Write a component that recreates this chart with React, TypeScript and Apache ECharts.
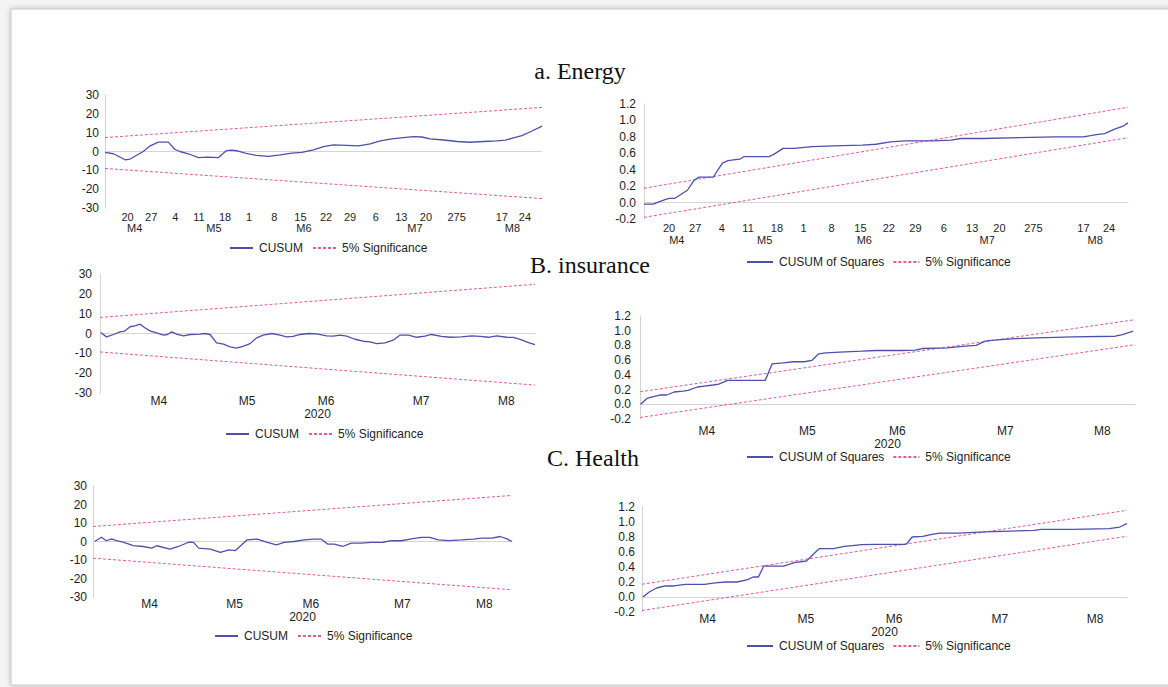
import React, { useEffect, useRef } from "react";
import * as echarts from "echarts";

type Pt = [number, number];

// ---------- tick labels ----------
const energyDayPos = [4.5, 9.2, 14, 18.7, 23.9, 28.7, 33.7, 38.9, 44, 48.8, 53.9, 59, 63.9, 70, 79, 83.6];
const energyDayLabels = ["20", "27", "4", "11", "18", "1", "8", "15", "22", "29", "6", "13", "20", "275", "17", "24"];
const energyMonthPos = [5.9, 21.7, 39.6, 61.7, 81.1];
const monthLabels = ["M4", "M5", "M6", "M7", "M8"];
const otherMonthPos = [13.5, 33.8, 52, 73.8, 93.4];

// ---------- a. Energy ----------
const energyCusum: Pt[] = [
  [0, -0.5], [1.7, -1.2], [4, -4.4], [5, -4], [7.6, 0], [9, 3], [10.6, 5], [12.6, 5], [13.9, 1.2], [14.9, 0],
  [16.6, -1.2], [18.6, -3.2], [20.3, -3], [22.6, -3.2], [24.2, 0.5], [25.2, 0.7], [26.2, 0.4], [27.9, -0.9],
  [30.2, -2.1], [32.5, -2.6], [34.9, -1.8], [37.2, -0.9], [39.2, -0.5], [41.5, 0.9], [43.5, 2.6], [45.5, 3.5],
  [48.1, 3.3], [50.5, 3], [52.8, 4], [54.8, 5.6], [57.1, 6.7], [59.4, 7.4], [61.4, 7.9], [63.1, 7.7], [64.7, 6.7],
  [67.4, 6.1], [70.1, 5.3], [72.7, 4.9], [75.4, 5.3], [78, 5.6], [79.7, 6], [81.3, 7.2], [83, 8.4], [85, 10.9], [87, 13.5],
];
const energyCusumUpper: Pt[] = [[0, 7.4], [87, 23.4]];
const energyCusumLower: Pt[] = [[0, -9], [87, -25]];

const energySq: Pt[] = [
  [0, -0.02], [1.6, -0.02], [3.9, 0.04], [4.6, 0.05], [5.5, 0.05], [7.1, 0.12], [7.8, 0.15], [9, 0.27], [9.9, 0.31],
  [10.9, 0.31], [12.5, 0.31], [13.2, 0.39], [14.1, 0.48], [15.1, 0.51], [16.1, 0.52], [17.3, 0.53], [18, 0.56],
  [19.9, 0.56], [22.5, 0.56], [23.4, 0.59], [25, 0.66], [27, 0.66], [30.2, 0.68], [34, 0.69], [39.2, 0.7],
  [41.7, 0.71], [44.3, 0.74], [46.9, 0.75], [52, 0.75], [55.2, 0.76], [57, 0.78], [61, 0.78], [67.4, 0.79],
  [73.9, 0.8], [79, 0.8], [81.6, 0.83], [82.8, 0.84], [84.5, 0.89], [86.1, 0.93], [87, 0.97],
];
const energySqUpper: Pt[] = [[0, 0.175], [87, 1.16]];
const energySqLower: Pt[] = [[0, -0.18], [87, 0.79]];

// ---------- B. insurance ----------
const insuranceCusum: Pt[] = [
  [0.15, 0.5], [1.5, -1.7], [3.1, -0.5], [4.6, 0.8], [5.7, 1.2], [6.9, 3.4], [8, 3.9], [9.2, 4.7], [10.3, 2.9],
  [11.5, 1.3], [13, 0.3], [14.6, -0.8], [15.5, -0.5], [16.5, 0.8], [17.6, -0.3], [19.2, -1.2], [20.7, -0.5],
  [23, -0.3], [24.1, 0], [25.3, -0.5], [26.8, -4.7], [28.4, -5.4], [29.9, -6.7], [31.4, -7.4], [33, -6.4],
  [34.5, -5.1], [36, -2.2], [37.5, -0.8], [39.5, 0], [41.4, -0.8], [42.9, -1.7], [44.4, -1.5], [46, -0.5],
  [47.9, 0], [49.8, -0.2], [52.1, -1.2], [53.6, -1.3], [55.2, -0.8], [56.7, -1.3], [58.6, -2.9], [60.5, -3.9],
  [62.1, -4.2], [63.6, -5.1], [65.5, -4.7], [67.4, -3.4], [69, -0.8], [70.9, -0.8], [72.8, -1.9], [74.7, -1.3],
  [76.2, -0.5], [78.5, -1.5], [80.5, -1.9], [83.1, -1.7], [85.4, -1.2], [87.4, -1.5], [89.3, -1.9], [91.2, -1.2],
  [93.5, -1.9], [95, -2], [96.6, -3], [98.5, -4.6], [100, -5.6],
];
const insuranceCusumUpper: Pt[] = [[0, 8.1], [100, 24.8]];
const insuranceCusumLower: Pt[] = [[0, -9.3], [100, -26]];

const insuranceSq: Pt[] = [
  [0.1, 0], [1.4, 0.08], [2.5, 0.1], [4, 0.126], [5.4, 0.126], [6.9, 0.167], [8.7, 0.18], [9.7, 0.19], [11.6, 0.235],
  [12.6, 0.244], [14.8, 0.262], [15.9, 0.275], [17.7, 0.325], [18.8, 0.325], [20.9, 0.325], [23.1, 0.325],
  [25.3, 0.325], [26.7, 0.55], [28.9, 0.564], [31, 0.578], [33.2, 0.578], [34.7, 0.596], [36.1, 0.686], [37.5, 0.7],
  [40.4, 0.709], [44.8, 0.722], [47.7, 0.731], [52.7, 0.731], [55.6, 0.736], [57, 0.758], [62.1, 0.767],
  [65.7, 0.79], [67.9, 0.8], [69.7, 0.858], [71.5, 0.871], [75.1, 0.889], [80.1, 0.903], [87.4, 0.916],
  [96, 0.925], [97.5, 0.948], [99.6, 0.993],
];
const insuranceSqUpper: Pt[] = [[0, 0.17], [100, 1.15]];
const insuranceSqLower: Pt[] = [[0, -0.18], [100, 0.81]];

// ---------- C. Health ----------
const healthCusum: Pt[] = [
  [0.4, 0], [2, 2.3], [3.2, 0.4], [4.4, 1.4], [5.6, 0.5], [7.2, -0.4], [9.6, -2.2], [12, -2.7], [14, -3.6],
  [15.2, -2.3], [18.4, -4.1], [20.4, -2.7], [22.8, -0.4], [24, -0.5], [25.2, -3.6], [28, -4.1], [30.4, -5.9],
  [32.4, -4.5], [34, -4.9], [36.8, 0.9], [39.2, 1.3], [41.6, -0.5], [43.8, -1.8], [45.6, -0.5], [48, 0],
  [50.4, 0.9], [52.8, 1.3], [54.4, 1.3], [56, -1.4], [57.6, -1.4], [59.6, -2.7], [61.6, -0.9], [64, -0.9],
  [66.4, -0.5], [69.2, -0.4], [71.2, 0.5], [73.6, 0.4], [76, 1.4], [78.4, 2.2], [80.4, 2.2], [82.4, 0.9],
  [84.8, 0.5], [88, 0.9], [90.8, 1.3], [92.8, 1.8], [95.2, 1.8], [97.2, 2.7], [98.8, 1.4], [100, 0],
];
const healthCusumUpper: Pt[] = [[0, 8.1], [100, 24.9]];
const healthCusumLower: Pt[] = [[0, -9], [100, -26.1]];

const healthSq: Pt[] = [
  [0.2, 0], [1.5, 0.067], [3, 0.12], [4.8, 0.147], [6.6, 0.147], [8.9, 0.169], [10.7, 0.169], [12.9, 0.169],
  [15.1, 0.187], [17.3, 0.2], [19.6, 0.2], [21.8, 0.231], [22.9, 0.267], [24, 0.267], [25.1, 0.413], [26.9, 0.413],
  [29.2, 0.413], [31.4, 0.458], [33.9, 0.48], [36.5, 0.644], [39.5, 0.644], [41.7, 0.676], [45.4, 0.698],
  [48.3, 0.702], [51.3, 0.702], [54.2, 0.702], [54.6, 0.71], [55.7, 0.8], [57.9, 0.809], [59.8, 0.836],
  [61.3, 0.853], [65.3, 0.853], [70.5, 0.867], [74.2, 0.876], [80.8, 0.889], [82.3, 0.902], [88.9, 0.902],
  [96.3, 0.911], [98.5, 0.933], [100, 0.978],
];
const healthSqUpper: Pt[] = [[0, 0.17], [100, 1.156]];
const healthSqLower: Pt[] = [[0, -0.18], [100, 0.81]];

// ---------- styles ----------
const LINE_COLOR = "#4f4fae";
const SIG_COLOR = "#e45a9a";
const AXIS_COLOR = "#d4d4d4";
const TEXT_COLOR = "#1e1e1e";
const SANS = "Liberation Sans, Arial, sans-serif";

interface Panel {
  grid: { left: number; top: number; width: number; height: number };
  xmax: number;
  ymin: number;
  ymax: number;
  step: number;
  dec: number;
  name: string;
  line: Pt[];
  upper: Pt[];
  lower: Pt[];
  days: boolean;
  labelMargin: number;
  monthOffset: number;
  nameGap: number;
  yMargin: number;
  legend: { left: number; top: number; itemWidth: number; itemGap: number };
}

const panels: Panel[] = [
  {
    grid: { left: 105, top: 95, width: 437, height: 113 }, xmax: 87, ymin: -30, ymax: 30, step: 10, dec: 0,
    name: "CUSUM", line: energyCusum, upper: energyCusumUpper, lower: energyCusumLower, days: true,
    labelMargin: 2, monthOffset: 11, nameGap: 0, yMargin: 6,
    legend: { left: 224, top: 237, itemWidth: 23, itemGap: 9 },
  },
  {
    grid: { left: 644, top: 104, width: 484, height: 115 }, xmax: 87, ymin: -0.2, ymax: 1.2, step: 0.2, dec: 1,
    name: "CUSUM of Squares", line: energySq, upper: energySqUpper, lower: energySqLower, days: true,
    labelMargin: 2, monthOffset: 12, nameGap: 0, yMargin: 8,
    legend: { left: 741, top: 251, itemWidth: 26, itemGap: 8 },
  },
  {
    grid: { left: 100, top: 274, width: 435, height: 119 }, xmax: 100, ymin: -30, ymax: 30, step: 10, dec: 0,
    name: "CUSUM", line: insuranceCusum, upper: insuranceCusumUpper, lower: insuranceCusumLower, days: false,
    labelMargin: 2, monthOffset: 0, nameGap: 13, yMargin: 8,
    legend: { left: 220, top: 423, itemWidth: 23, itemGap: 9 },
  },
  {
    grid: { left: 640, top: 316, width: 495, height: 103 }, xmax: 100, ymin: -0.2, ymax: 1.2, step: 0.2, dec: 1,
    name: "CUSUM of Squares", line: insuranceSq, upper: insuranceSqUpper, lower: insuranceSqLower, days: false,
    labelMargin: 6, monthOffset: 0, nameGap: 18, yMargin: 9,
    legend: { left: 741, top: 446, itemWidth: 26, itemGap: 8 },
  },
  {
    grid: { left: 93, top: 486, width: 419, height: 111 }, xmax: 100, ymin: -30, ymax: 30, step: 10, dec: 0,
    name: "CUSUM", line: healthCusum, upper: healthCusumUpper, lower: healthCusumLower, days: false,
    labelMargin: 1, monthOffset: 0, nameGap: 12, yMargin: 6,
    legend: { left: 209, top: 625, itemWidth: 23, itemGap: 9 },
  },
  {
    grid: { left: 642, top: 507, width: 485, height: 105 }, xmax: 100, ymin: -0.2, ymax: 1.2, step: 0.2, dec: 1,
    name: "CUSUM of Squares", line: healthSq, upper: healthSqUpper, lower: healthSqLower, days: false,
    labelMargin: 1, monthOffset: 0, nameGap: 11, yMargin: 7,
    legend: { left: 741, top: 635, itemWidth: 26, itemGap: 8 },
  },
];

const titles = [
  { text: "a. Energy", x: 580, y: 71 },
  { text: "B. insurance", x: 590, y: 265 },
  { text: "C. Health", x: 593, y: 458 },
];

function labelFor(positions: number[], labels: string[]) {
  return (v: number) => {
    let best = -1;
    let bd = 1e9;
    positions.forEach((p, i) => {
      const d = Math.abs(p - v);
      if (d < bd) { bd = d; best = i; }
    });
    return bd < 0.01 ? labels[best] : "";
  };
}

function buildOption() {
  const grid: any[] = [];
  const xAxis: any[] = [];
  const yAxis: any[] = [];
  const series: any[] = [];
  const legend: any[] = [];
  const labelText = { color: TEXT_COLOR, fontFamily: SANS, fontSize: 12 };
  const smallText = { color: TEXT_COLOR, fontFamily: SANS, fontSize: 11, lineHeight: 11 };

  panels.forEach((p, i) => {
    grid.push({ ...p.grid, show: false, containLabel: false });
    const baseX = {
      gridIndex: i, type: "value", min: 0, max: p.xmax, position: "bottom",
      axisTick: { show: false }, splitLine: { show: false },
    };
    let xIdx: number;
    if (p.days) {
      xIdx = xAxis.length;
      xAxis.push({
        ...baseX,
        axisLine: { show: true, lineStyle: { color: AXIS_COLOR, width: 1 } },
        axisLabel: { ...smallText, margin: p.labelMargin + 1, customValues: energyDayPos, formatter: labelFor(energyDayPos, energyDayLabels), showMinLabel: true, showMaxLabel: true },
      });
      xAxis.push({
        ...baseX, offset: p.monthOffset,
        axisLine: { show: false },
        axisLabel: { ...smallText, margin: p.labelMargin + 1, customValues: energyMonthPos, formatter: labelFor(energyMonthPos, monthLabels) },
      });
    } else {
      xIdx = xAxis.length;
      xAxis.push({
        ...baseX,
        name: "2020", nameLocation: "middle", nameGap: p.nameGap,
        nameTextStyle: { ...labelText },
        axisLine: { show: true, lineStyle: { color: AXIS_COLOR, width: 1 } },
        axisLabel: { ...labelText, margin: p.labelMargin, customValues: otherMonthPos, formatter: labelFor(otherMonthPos, monthLabels) },
      });
    }
    const yIdx = yAxis.length;
    yAxis.push({
      gridIndex: i, type: "value", min: p.ymin, max: p.ymax, interval: p.step,
      axisLine: { show: true, lineStyle: { color: AXIS_COLOR, width: 1 } },
      axisTick: { show: false }, splitLine: { show: false },
      axisLabel: { ...labelText, margin: p.yMargin, formatter: (v: number) => v.toFixed(p.dec) },
    });
    series.push({
      type: "line", name: p.name, xAxisIndex: xIdx, yAxisIndex: yIdx, data: p.line,
      symbol: "none", showSymbol: false, lineStyle: { color: LINE_COLOR, width: 1.3 }, itemStyle: { color: LINE_COLOR },
      z: 3,
    });
    [p.upper, p.lower].forEach((b) => {
      series.push({
        type: "line", name: "5% Significance", xAxisIndex: xIdx, yAxisIndex: yIdx, data: b,
        symbol: "none", showSymbol: false, lineStyle: { color: SIG_COLOR, width: 1, type: [3, 2] }, itemStyle: { color: SIG_COLOR },
        z: 2,
      });
    });
    legend.push({
      left: p.legend.left, top: p.legend.top, orient: "horizontal",
      itemWidth: p.legend.itemWidth, itemHeight: 14, itemGap: p.legend.itemGap,
      itemStyle: { opacity: 0 },
      textStyle: { ...labelText, padding: [0, 0, 0, 1] },
      data: [p.name, "5% Significance"], selectedMode: false,
    });
  });

  const graphic: any[] = [
    {
      type: "rect", z: 0, silent: true,
      shape: { x: 11, y: 9, width: 1160, height: 676 },
      style: { fill: "#ffffff", stroke: "#c8c8c8", lineWidth: 1, shadowBlur: 5, shadowColor: "rgba(0,0,0,0.25)" },
    },
    ...titles.map((t) => ({
      type: "text", x: t.x, y: t.y, z: 10,
      style: {
        text: t.text, fill: "#111111", font: '24px "Liberation Serif", "Times New Roman", serif',
        textAlign: "center", textVerticalAlign: "middle",
      },
    })),
  ];

  return {
    animation: false,
    backgroundColor: "#f4f4f4",
    grid, xAxis, yAxis, series, legend, graphic,
  };
}

export default function App() {
  const ref = useRef<HTMLDivElement>(null);
  useEffect(() => {
    document.body.style.margin = "0";
    if (!ref.current) return;
    const chart = echarts.init(ref.current, undefined, { renderer: "svg" });
    chart.setOption(buildOption() as any);
    return () => chart.dispose();
  }, []);
  return <div ref={ref} style={{ width: 1168, height: 687 }} />;
}
